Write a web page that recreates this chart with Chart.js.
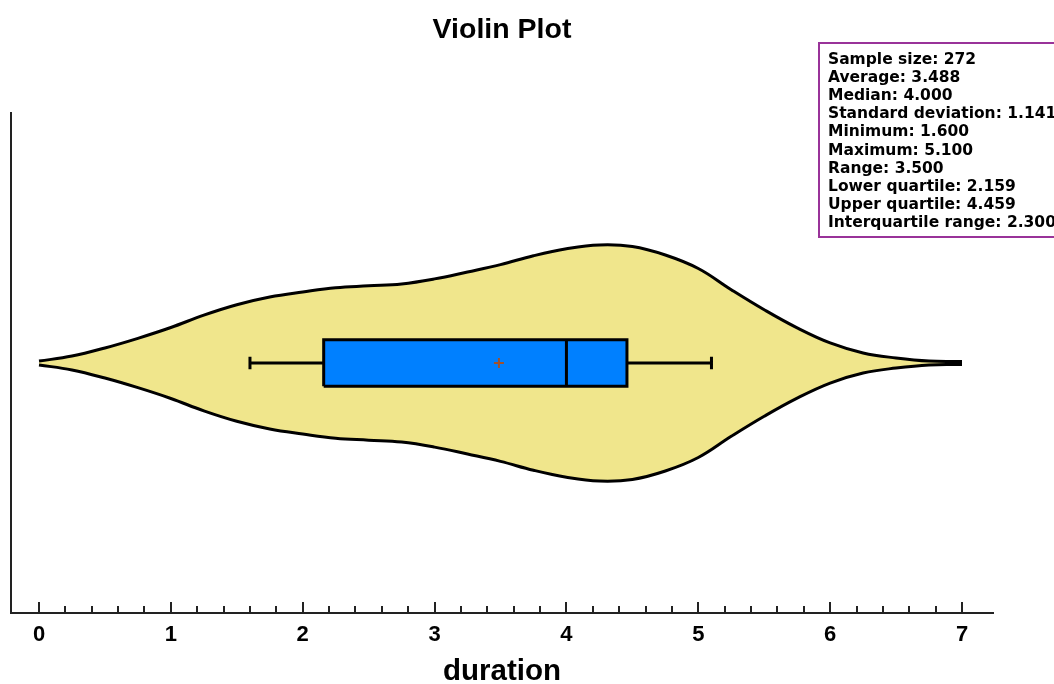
<!DOCTYPE html>
<html>
<head>
<meta charset="utf-8">
<title>Violin Plot</title>
<script src="https://cdn.jsdelivr.net/npm/chart.js@4/dist/chart.umd.min.js"></script>
<style>
  html, body { margin: 0; padding: 0; background: #ffffff; overflow: hidden; }
  #wrap { width: 1054px; height: 684px; position: relative; }
</style>
</head>
<body>
<div id="wrap"><canvas id="violin" width="1054" height="684"></canvas></div>
<script>
// Kernel density estimate of eruption duration, evaluated on a regular grid
const durationGrid = [0, 0.25, 0.5, 0.75, 1, 1.25, 1.5, 1.75, 2, 2.25, 2.5, 2.75, 3, 3.25, 3.5,
                      3.75, 4, 4.25, 4.5, 4.75, 5, 5.25, 5.5, 5.75, 6, 6.25, 6.5, 6.75, 7];
const densityValues = [0.005, 0.018, 0.039, 0.064, 0.092, 0.124, 0.151, 0.171, 0.184, 0.195, 0.200,
                       0.205, 0.218, 0.236, 0.255, 0.278, 0.296, 0.306, 0.302, 0.280, 0.245, 0.190,
                       0.138, 0.091, 0.052, 0.026, 0.013, 0.005, 0.004];

// Summary statistics
const sampleSize = 272;
const average = 3.488;
const median = 4.000;
const stdDeviation = 1.141;
const minimum = 1.600;
const maximum = 5.100;
const lowerQuartile = 2.159;
const upperQuartile = 4.459;

// Axis tick labels
const xTickLabels = [0, 1, 2, 3, 4, 5, 6, 7];

// Drawing constants (density units on the vertical axis)
const BOX_HALF = 0.06;
const CAP_HALF = 0.016;
const Y_LIMIT = 0.648;
const X_MIN = -0.2124;
const X_MAX = 7.2351;

const statLines = [
  'Sample size: ' + sampleSize,
  'Average: ' + average.toFixed(3),
  'Median: ' + median.toFixed(3),
  'Standard deviation: ' + stdDeviation.toFixed(3),
  'Minimum: ' + minimum.toFixed(3),
  'Maximum: ' + maximum.toFixed(3),
  'Range: ' + (maximum - minimum).toFixed(3),
  'Lower quartile: ' + lowerQuartile.toFixed(3),
  'Upper quartile: ' + upperQuartile.toFixed(3),
  'Interquartile range: ' + (upperQuartile - lowerQuartile).toFixed(3)
];

const upperEdge = durationGrid.map((x, i) => ({ x, y: densityValues[i] }));
const lowerEdge = durationGrid.map((x, i) => ({ x, y: -densityValues[i] }));

const lineBase = { pointRadius: 0, pointHoverRadius: 0, tension: 0, fill: false, borderColor: '#000000', borderWidth: 3 };

const datasets = [
  // violin body
  Object.assign({}, lineBase, {
    label: 'density (upper)', data: upperEdge, fill: '+1', backgroundColor: '#F0E68C',
    tension: 0.4, order: 10
  }),
  Object.assign({}, lineBase, {
    label: 'density (lower)', data: lowerEdge, tension: 0.4, order: 11
  }),
  // box fill
  Object.assign({}, lineBase, {
    label: 'box top', data: [{ x: lowerQuartile, y: BOX_HALF }, { x: upperQuartile, y: BOX_HALF }],
    fill: '+1', backgroundColor: '#0080FF', borderWidth: 0, order: 8
  }),
  Object.assign({}, lineBase, {
    label: 'box bottom', data: [{ x: lowerQuartile, y: -BOX_HALF }, { x: upperQuartile, y: -BOX_HALF }],
    borderWidth: 0, order: 9
  }),
  // box outline
  Object.assign({}, lineBase, {
    label: 'box outline',
    data: [{ x: lowerQuartile, y: -BOX_HALF }, { x: lowerQuartile, y: BOX_HALF }, { x: upperQuartile, y: BOX_HALF },
           { x: upperQuartile, y: -BOX_HALF }, { x: lowerQuartile, y: -BOX_HALF }],
    borderJoinStyle: 'miter', order: 4
  }),
  // whiskers
  Object.assign({}, lineBase, {
    label: 'lower whisker',
    data: [{ x: minimum, y: CAP_HALF }, { x: minimum, y: -CAP_HALF }, { x: minimum, y: 0 }, { x: lowerQuartile, y: 0 }],
    order: 3
  }),
  Object.assign({}, lineBase, {
    label: 'upper whisker',
    data: [{ x: upperQuartile, y: 0 }, { x: maximum, y: 0 }, { x: maximum, y: CAP_HALF }, { x: maximum, y: -CAP_HALF }],
    order: 3
  }),
  // median
  Object.assign({}, lineBase, {
    label: 'median', data: [{ x: median, y: -BOX_HALF }, { x: median, y: BOX_HALF }], order: 2
  }),
  // mean
  {
    label: 'mean', data: [{ x: average, y: 0 }], showLine: false, pointStyle: 'cross',
    pointRadius: 5, pointHoverRadius: 5, pointBorderColor: '#A0522D', pointBorderWidth: 2,
    borderColor: '#A0522D', order: 1
  }
];

// Tick marks drawn inward from the horizontal axis (long on whole numbers, short every 0.2)
const inwardTicks = {
  id: 'inwardTicks',
  afterDraw(chart) {
    const { ctx, chartArea, scales: { x } } = chart;
    ctx.save();
    ctx.strokeStyle = '#222222';
    ctx.lineWidth = 2;
    for (let i = 0; i <= 35; i++) {
      const v = i / 5;
      const px = Math.round(x.getPixelForValue(v));
      const len = (i % 5 === 0) ? 11 : 7;
      ctx.beginPath();
      ctx.moveTo(px, chartArea.bottom);
      ctx.lineTo(px, chartArea.bottom - len);
      ctx.stroke();
    }
    ctx.restore();
  }
};

// Summary statistics panel
const statsPanel = {
  id: 'statsPanel',
  afterDraw(chart) {
    const ctx = chart.ctx;
    ctx.save();
    ctx.fillStyle = '#ffffff';
    ctx.fillRect(818, 43, 260, 194);
    ctx.strokeStyle = '#993399';
    ctx.lineWidth = 2;
    ctx.strokeRect(819, 43, 260, 194);
    ctx.fillStyle = '#000000';
    ctx.font = 'bold 15.5px "DejaVu Sans"';
    ctx.textBaseline = 'middle';
    ctx.textAlign = 'left';
    statLines.forEach((t, i) => ctx.fillText(t, 828, 59.5 + i * 18.2));
    ctx.restore();
  }
};

new Chart(document.getElementById('violin'), {
  type: 'line',
  data: { datasets },
  options: {
    responsive: false,
    animation: false,
    events: [],
    layout: { padding: { left: 11, right: 61, top: 0, bottom: 0 } },
    plugins: {
      legend: { display: false },
      tooltip: { enabled: false },
      filler: { drawTime: 'beforeDatasetsDraw' },
      title: {
        display: true,
        text: 'Violin Plot',
        color: '#000000',
        font: { family: '"Liberation Sans", Arial, sans-serif', size: 28.5, weight: 'bold', lineHeight: 1.2 },
        padding: { top: 13, bottom: 65.8 }
      }
    },
    scales: {
      x: {
        type: 'linear',
        position: 'bottom',
        min: X_MIN,
        max: X_MAX,
        afterBuildTicks(scale) {
          const ticks = [];
          for (let i = 0; i <= 35; i++) ticks.push({ value: i / 5 });
          scale.ticks = ticks;
        },
        grid: { display: false, drawTicks: false },
        border: { display: true, color: '#222222', width: 2 },
        ticks: {
          autoSkip: false,
          maxRotation: 0,
          padding: 9,
          color: '#000000',
          font: { family: '"Liberation Sans", Arial, sans-serif', size: 22, weight: 'bold', lineHeight: 1.2 },
          callback: (v) => xTickLabels.includes(v) ? String(v) : ''
        },
        title: {
          display: true,
          text: 'duration',
          color: '#000000',
          font: { family: '"Liberation Sans", Arial, sans-serif', size: 29.5, weight: 'bold', lineHeight: 0.8 },
          padding: { top: 3, bottom: 0 }
        }
      },
      y: {
        type: 'linear',
        min: -Y_LIMIT,
        max: Y_LIMIT,
        grid: { display: false, drawTicks: false },
        border: { display: true, color: '#222222', width: 2 },
        ticks: { display: false }
      }
    }
  },
  plugins: [inwardTicks, statsPanel]
});
</script>
</body>
</html>
